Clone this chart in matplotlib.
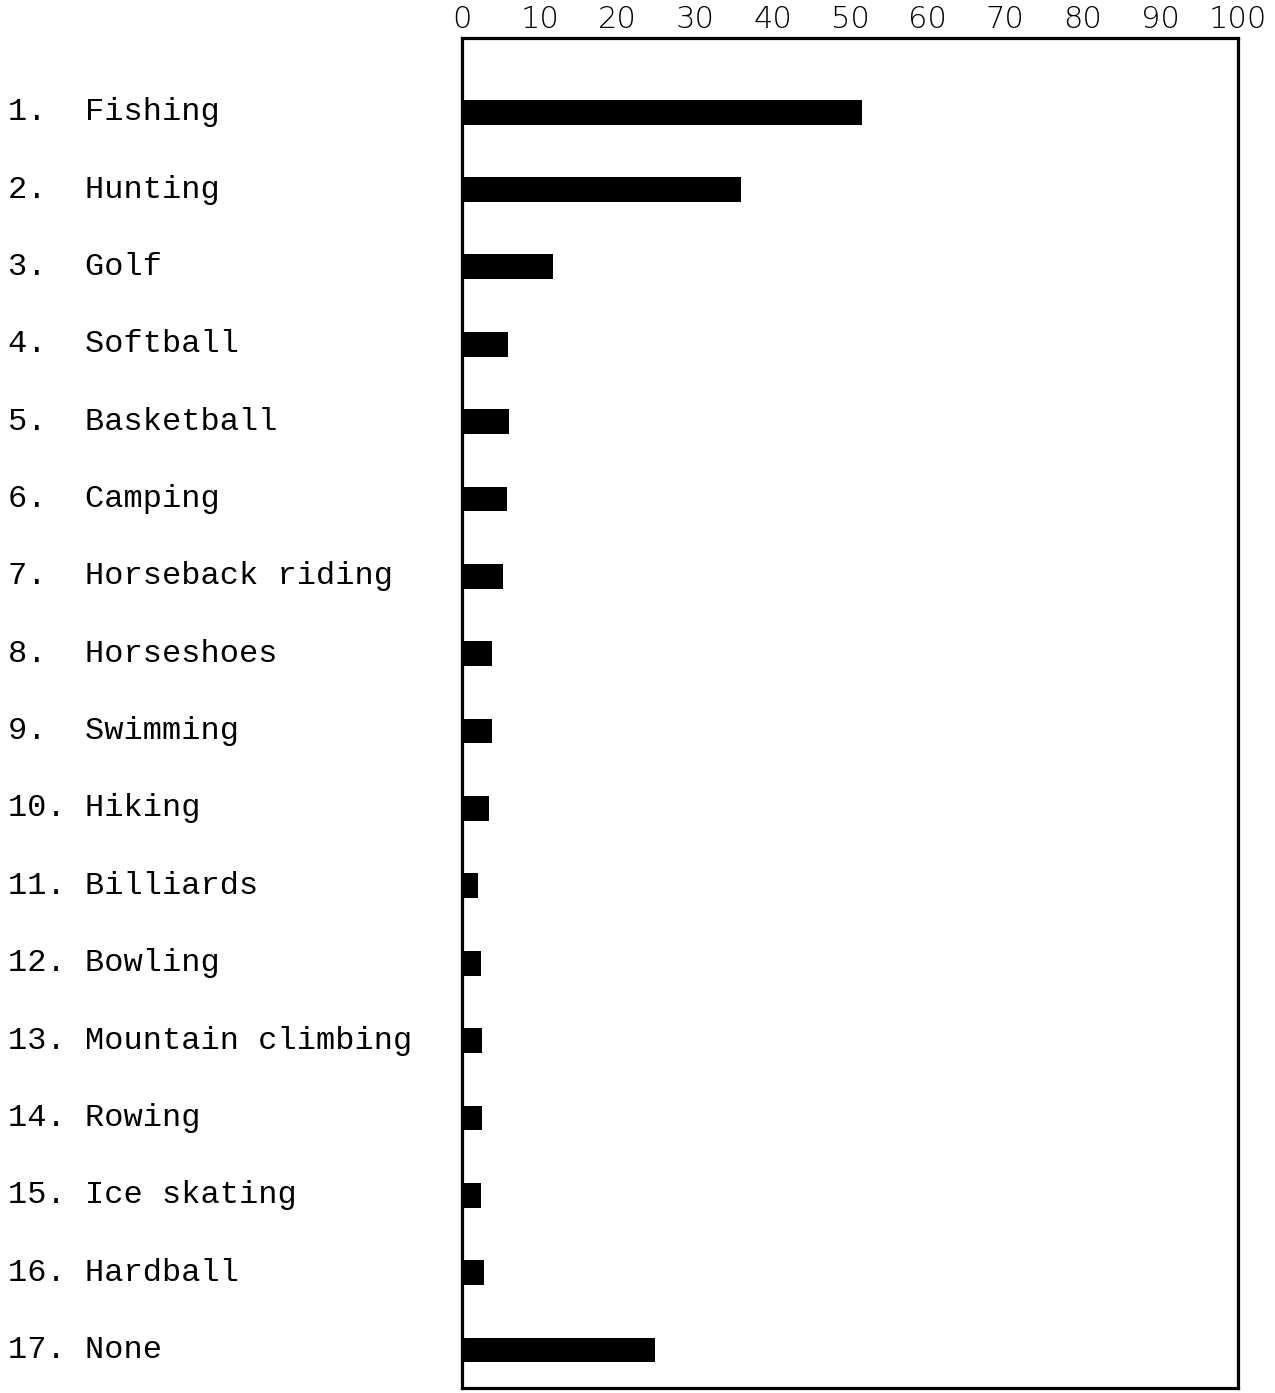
import matplotlib.pyplot as plt

# Atividades e percentuais
activities = ["Fishing", "Hunting", "Golf", "Softball", "Basketball", "Camping",
              "Horseback riding", "Horseshoes", "Swimming", "Hiking", "Billiards",
              "Bowling", "Mountain climbing", "Rowing", "Ice skating", "Hardball", "None"]
percent = [51.5, 36, 11.7, 5.9, 6, 5.8, 5.2, 3.9, 3.8, 3.5, 2.1, 2.4, 2.6, 2.6, 2.4, 2.8, 24.8]
xticks = [0, 10, 20, 30, 40, 50, 60, 70, 80, 90, 100]

fig = plt.figure(figsize=(12.75, 13.93), dpi=100)
ax = fig.add_axes([0.3625, 0.0036, 0.6085, 0.969])

pos = list(range(len(activities)))
ax.barh(pos, percent, height=0.32, color="black")

ax.set_xlim(0, 100)
ax.set_ylim(16.49, -0.956)
ax.xaxis.tick_top()
ax.set_xticks(xticks)
ax.set_xticklabels([str(t) for t in xticks], fontsize=22, family="DejaVu Sans",
                   fontweight="light")
ax.tick_params(axis="x", length=0, pad=3)
ax.set_yticks([])
for s in ax.spines.values():
    s.set_linewidth(2.3)

# rótulos à esquerda, estilo máquina de escrever
for i, nome in enumerate(activities):
    num = f"{i + 1}."
    texto = num.ljust(4) + nome
    ax.text(-0.585, i, texto, transform=ax.get_yaxis_transform(), ha="left",
            va="center", fontsize=23, family="Liberation Mono", color="black")

fig.savefig("out.png", dpi=100, facecolor="white")
